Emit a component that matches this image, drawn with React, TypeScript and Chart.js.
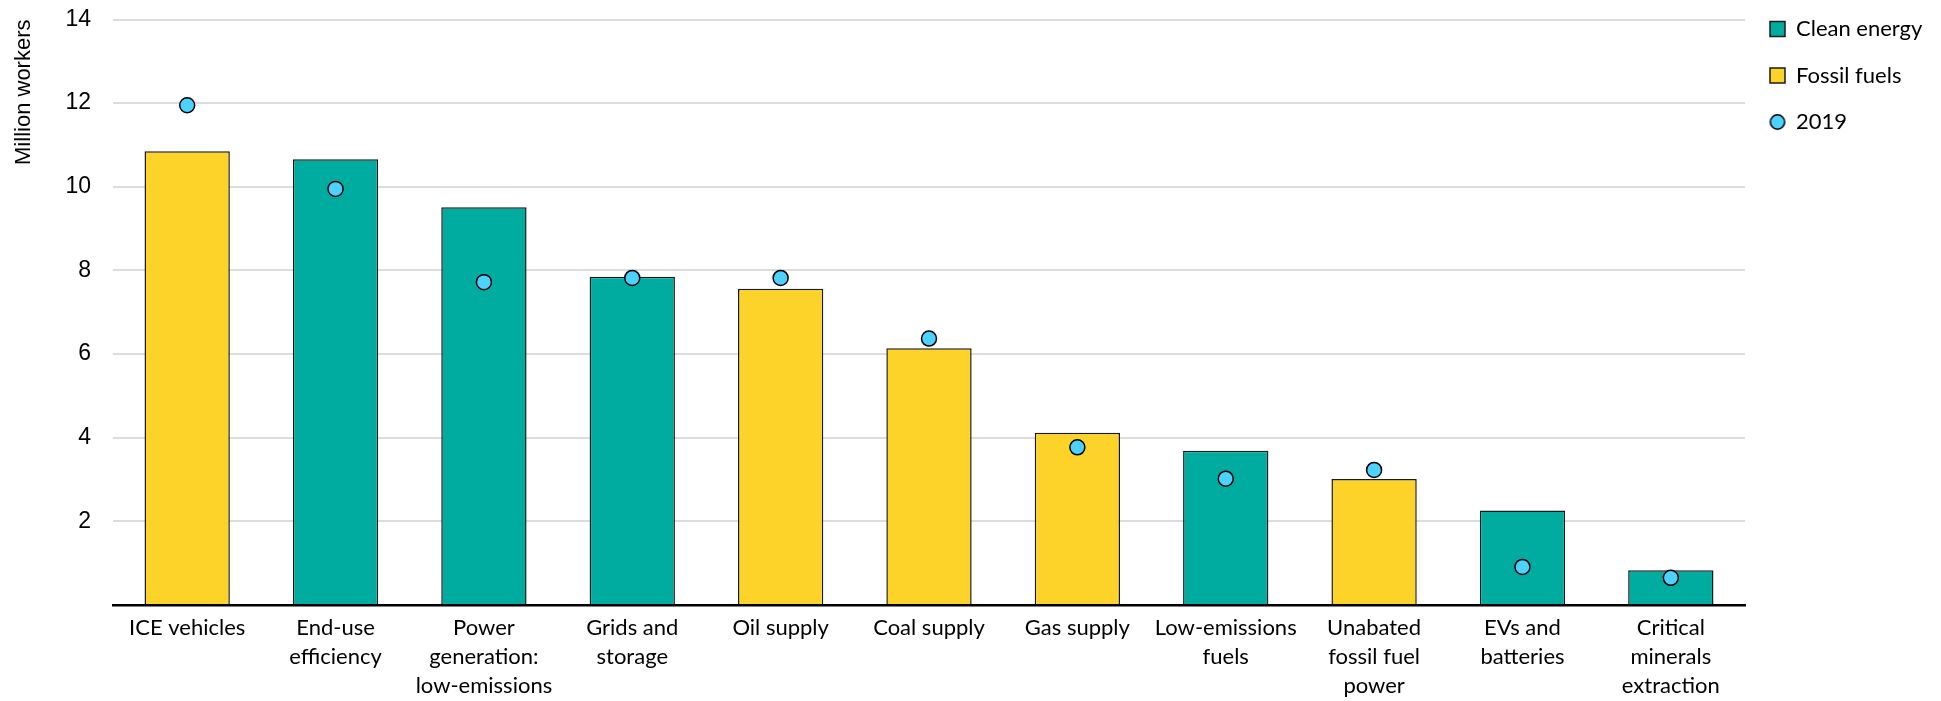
import React, { useEffect, useRef } from 'react';
import { Chart, registerables } from 'chart.js';

Chart.register(...registerables);

const categories: string[][] = [
  ['ICE vehicles'],
  ['End-use', 'efficiency'],
  ['Power', 'generation:', 'low-emissions'],
  ['Grids and', 'storage'],
  ['Oil supply'],
  ['Coal supply'],
  ['Gas supply'],
  ['Low-emissions', 'fuels'],
  ['Unabated', 'fossil fuel', 'power'],
  ['EVs and', 'batteries'],
  ['Critical', 'minerals', 'extraction'],
];

const cleanEnergy: (number | null)[] = [null, 10.66, 9.51, 7.85, null, null, null, 3.69, null, 2.26, 0.83];
const fossilFuels: (number | null)[] = [10.85, null, null, null, 7.56, 6.14, 4.12, null, 3.01, null, null];
const workers2019: number[] = [11.95, 9.95, 7.72, 7.82, 7.82, 6.37, 3.77, 3.02, 3.23, 0.91, 0.65];

const yTicks: number[] = [0, 2, 4, 6, 8, 10, 12, 14];

const TEAL = '#00ABA0';
const YELLOW = '#FDD329';
const DOT = '#4DD2FF';

const W = 1941;
const H = 701;

const legendShift = {
  id: 'legendShift',
  afterLayout(chart: any) {
    const l = chart.legend;
    if (!l) return;
    const h = l.height;
    l.top = -6.5;
    l.bottom = l.top + h;
    l.left = 1745.5;
    l.width = 195;
    l.right = l.left + l.width;
  },
};

function makeDotIcon(): HTMLCanvasElement {
  const c = document.createElement('canvas');
  c.width = 18;
  c.height = 18;
  const g = c.getContext('2d');
  if (g) {
    g.beginPath();
    g.arc(9, 9, 7.2, 0, Math.PI * 2);
    g.fillStyle = DOT;
    g.fill();
    g.lineWidth = 1.5;
    g.strokeStyle = '#000';
    g.stroke();
  }
  return c;
}

export default function App() {
  const ref = useRef<HTMLCanvasElement | null>(null);

  useEffect(() => {
    if (!ref.current) return;
    const dotIcon = makeDotIcon();
    const chart = new Chart(ref.current, {
      type: 'bar',
      data: {
        labels: categories as any,
        datasets: [
          {
            type: 'bar',
            label: 'Clean energy',
            data: cleanEnergy,
            backgroundColor: TEAL,
            borderColor: '#1a1a1a',
            borderWidth: 1.5,
            grouped: false,
            categoryPercentage: 1,
            barPercentage: 0.575,
            pointStyle: 'rect',
            order: 1,
          } as any,
          {
            type: 'bar',
            label: 'Fossil fuels',
            data: fossilFuels,
            backgroundColor: YELLOW,
            borderColor: '#1a1a1a',
            borderWidth: 1.5,
            grouped: false,
            categoryPercentage: 1,
            barPercentage: 0.575,
            pointStyle: 'rect',
            order: 2,
          } as any,
          {
            type: 'line',
            label: '2019',
            data: workers2019,
            showLine: false,
            pointStyle: 'circle',
            pointRadius: 7.5,
            pointHoverRadius: 7.5,
            pointBackgroundColor: DOT,
            pointBorderColor: '#000',
            pointBorderWidth: 1.5,
            backgroundColor: DOT,
            borderColor: '#000',
            borderWidth: 1.5,
            order: 0,
          } as any,
        ],
      },
      options: {
        responsive: false,
        animation: false,
        layout: { padding: { top: 19.5, right: 96, bottom: 0, left: 0 } },
        plugins: {
          tooltip: { enabled: false },
          legend: {
            display: true,
            position: 'right',
            align: 'start',
            maxWidth: 100,
            labels: {
              usePointStyle: true,
              boxWidth: 15,
              boxHeight: 15,
              padding: 24.5,
              color: '#000',
              font: { family: 'Lato', size: 22 },
              sort: (a: any, b: any) => a.datasetIndex - b.datasetIndex,
              generateLabels: (ch: any) => {
                const items = Chart.defaults.plugins.legend.labels.generateLabels(ch);
                return items.map((it: any) => (it.datasetIndex === 2 ? { ...it, pointStyle: dotIcon } : it));
              },
            },
          },
        },
        scales: {
          x: {
            type: 'category',
            grid: { display: false, drawTicks: false },
            border: { display: true, color: '#000', width: 2.5 },
            ticks: {
              color: '#000',
              font: { family: 'Lato', size: 22, lineHeight: 1.3 },
              padding: 9,
              maxRotation: 0,
              minRotation: 0,
              autoSkip: false,
            },
            afterFit: (s: any) => {
              s.height = 96;
            },
          },
          y: {
            type: 'linear',
            min: 0,
            max: 14,
            afterBuildTicks: (s: any) => {
              s.ticks = yTicks.map((v) => ({ value: v }));
            },
            grid: {
              color: (c: any) => (c.tick && c.tick.value === 0 ? 'rgba(0,0,0,0)' : '#DCDCDC'),
              lineWidth: 2,
              drawTicks: true,
              tickLength: 20,
              tickColor: 'rgba(0,0,0,0)',
            },
            border: { display: false },
            ticks: {
              color: '#000',
              font: { family: 'Liberation Sans', size: 23 },
              padding: 2,
              callback: (v: any) => (v === 0 ? '' : String(v)),
            },
            title: {
              display: true,
              text: 'Million workers',
              align: 'end',
              color: '#000',
              font: { family: 'Liberation Sans', size: 22 },
              padding: { top: 11, bottom: 0 },
            },
            afterFit: (s: any) => {
              s.width = 113;
            },
          },
        },
      },
      plugins: [legendShift],
    });
    return () => chart.destroy();
  }, []);

  return (
    <div style={{ position: 'fixed', left: 0, top: 0, width: W, height: H, background: '#fff' }}>
      <canvas ref={ref} width={W} height={H} style={{ width: W, height: H, display: 'block' }} />
    </div>
  );
}
